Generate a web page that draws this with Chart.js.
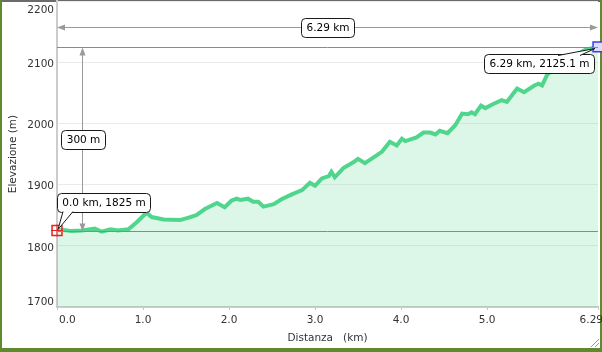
<!DOCTYPE html>
<html>
<head>
<meta charset="utf-8">
<script src="https://cdn.jsdelivr.net/npm/chart.js@4/dist/chart.umd.min.js"></script>
<style>
    html, body {
        margin: 0;
        width: 602px;
        height: 352px;
        overflow: hidden;
        background: #5f8a2e;
    }
    #panel {
        position: absolute;
        left: 2px;
        top: 0;
        width: 598px;
        height: 348px;
        background: #ffffff;
        border-top: 2px solid #6b6b6b;
        box-sizing: border-box;
    }
    #grip {
        position: absolute;
        left: 589px;
        top: 337px;
        width: 10px;
        height: 10px;
        background: repeating-linear-gradient(135deg, transparent 0 2px, #9a9a9a 2px 3px);
        clip-path: polygon(100% 0, 100% 100%, 0 100%);
    }
    #chart {
        position: absolute;
        left: 0;
        top: 0;
    }
</style>
</head>
<body>
<div id="panel"></div>
<div id="grip"></div>
<canvas id="chart" width="602" height="352"></canvas>
<script>
const distKm = [
    0.00, 0.06, 0.17, 0.29, 0.44, 0.52, 0.62, 0.71, 0.83, 0.93,
    1.04, 1.10, 1.24, 1.43, 1.53, 1.62, 1.72, 1.86, 1.95, 2.03,
    2.09, 2.13, 2.22, 2.28, 2.34, 2.40, 2.52, 2.61, 2.73, 2.85,
    2.94, 3.00, 3.08, 3.16, 3.19, 3.23, 3.33, 3.45, 3.50, 3.58,
    3.72, 3.78, 3.87, 3.95, 4.01, 4.05, 4.18, 4.26, 4.34, 4.40,
    4.45, 4.54, 4.63, 4.71, 4.78, 4.82, 4.86, 4.93, 4.98, 5.06,
    5.17, 5.23, 5.29, 5.35, 5.43, 5.55, 5.60, 5.64, 5.70, 5.79,
    5.91, 6.02, 6.14, 6.29
];

const elevM = [
    1825, 1826, 1824, 1825, 1828, 1823, 1827, 1825, 1827, 1839,
    1854, 1847, 1843, 1842, 1846, 1850, 1860, 1870, 1863, 1874,
    1877, 1875, 1877, 1872, 1872, 1864, 1868, 1876, 1884, 1891,
    1903, 1898, 1910, 1914, 1921, 1912, 1927, 1937, 1942, 1935,
    1948, 1954, 1970, 1964, 1975, 1971, 1977, 1985, 1985, 1982,
    1988, 1984, 1997, 2016, 2015, 2018, 2015, 2029, 2025, 2031,
    2038, 2035, 2046, 2057, 2051, 2062, 2065, 2062, 2080, 2090,
    2102, 2110, 2120, 2125.1
];

const xTicks = [0, 1, 2, 3, 4, 5, 6.29];
const xTickLabels = ["0.0", "1.0", "2.0", "3.0", "4.0", "5.0", "6.29"];
const yTicks = [1700, 1800, 1900, 2000, 2100, 2200];

const startPoint = { km: 0.0, elev: 1825 };
const endPoint = { km: 6.29, elev: 2125.1 };

const startLabel = "0.0 km, 1825 m";
const endLabel = "6.29 km, 2125.1 m";
const distLabel = "6.29 km";
const climbLabel = "300 m";

const FONT = "10.5px 'DejaVu Sans', Verdana, sans-serif";

// rounded label box, optional callout tail towards a point
function labelBox(ctx, text, x, y, w, h, tail) {
    ctx.save();
    ctx.beginPath();
    ctx.roundRect(x + 0.5, y + 0.5, w, h, 4);
    ctx.fillStyle = "#ffffff";
    ctx.fill();
    ctx.lineWidth = 1;
    ctx.strokeStyle = "#1a1a1a";
    ctx.stroke();

    if (tail) {
        ctx.beginPath();
        ctx.moveTo(tail.ax, tail.ay);
        ctx.lineTo(tail.tx, tail.ty);
        ctx.lineTo(tail.bx, tail.by);
        ctx.closePath();
        ctx.fillStyle = "#ffffff";
        ctx.fill();
        ctx.beginPath();
        ctx.moveTo(tail.ax, tail.ay);
        ctx.lineTo(tail.tx, tail.ty);
        ctx.lineTo(tail.bx, tail.by);
        ctx.stroke();
    }

    ctx.fillStyle = "#000000";
    ctx.font = FONT;
    ctx.textAlign = "center";
    ctx.textBaseline = "middle";
    ctx.fillText(text, x + w / 2 + 0.5, y + h / 2 + 1);
    ctx.restore();
}

function arrowHead(ctx, x, y, dir) {
    // dir: "l", "r", "u", "d"
    const len = 8, half = 3;
    ctx.beginPath();
    if (dir === "l") {
        ctx.moveTo(x, y); ctx.lineTo(x + len, y - half); ctx.lineTo(x + len, y + half);
    } else if (dir === "r") {
        ctx.moveTo(x, y); ctx.lineTo(x - len, y - half); ctx.lineTo(x - len, y + half);
    } else if (dir === "u") {
        ctx.moveTo(x, y); ctx.lineTo(x - half, y + len); ctx.lineTo(x + half, y + len);
    } else {
        ctx.moveTo(x, y); ctx.lineTo(x - half, y - len); ctx.lineTo(x + half, y - len);
    }
    ctx.closePath();
    ctx.fill();
}

const overlay = {
    id: "overlay",

    afterDatasetsDraw(chart) {
        const { ctx, chartArea: a, scales: { x, y } } = chart;
        const yTop = Math.round(y.getPixelForValue(endPoint.elev)) + 0.5;
        const yBase = Math.round(y.getPixelForValue(startPoint.elev)) + 0.5;
        const xEnd = x.getPixelForValue(endPoint.km);
        const xStart = x.getPixelForValue(startPoint.km);

        ctx.save();
        ctx.lineWidth = 1;

        // reference levels
        ctx.strokeStyle = "#8a8a8a";
        ctx.beginPath();
        ctx.moveTo(a.left, yTop);
        ctx.lineTo(a.right, yTop);
        ctx.moveTo(a.left, yBase);
        ctx.lineTo(a.right, yBase);
        ctx.stroke();

        // distance dimension
        ctx.strokeStyle = "#9a9a9a";
        ctx.fillStyle = "#9a9a9a";
        const dy = a.top + 26.5;
        ctx.beginPath();
        ctx.moveTo(xStart + 2, dy);
        ctx.lineTo(xEnd - 2, dy);
        ctx.stroke();
        arrowHead(ctx, xStart, dy, "l");
        arrowHead(ctx, xEnd, dy, "r");

        // climb dimension
        const dx = a.left + 25.5;
        ctx.beginPath();
        ctx.moveTo(dx, yTop + 2);
        ctx.lineTo(dx, yBase - 2);
        ctx.stroke();
        arrowHead(ctx, dx, yTop, "u");
        arrowHead(ctx, dx, yBase, "d");
        ctx.restore();

        ctx.save();
        ctx.font = FONT;
        const pad = 5, h = 19;

        let w = Math.round(ctx.measureText(distLabel).width) + pad * 2;
        labelBox(ctx, distLabel, Math.round((xStart + xEnd) / 2 - w / 2), Math.round(dy - h / 2), w, h);

        w = Math.round(ctx.measureText(climbLabel).width) + pad * 2;
        labelBox(ctx, climbLabel, Math.round(dx - w / 2), Math.round((yTop + yBase) / 2 - h / 2), w, h);

        w = Math.round(ctx.measureText(startLabel).width) + pad * 2;
        let bx = Math.round(xStart), by = Math.round(yBase - 20 - h);
        labelBox(ctx, startLabel, bx, by, w, h, {
            ax: bx + 6, ay: by + h - 0.5,
            bx: bx + 16, by: by + h - 0.5,
            tx: xStart + 1, ty: yBase - 2
        });

        w = Math.round(ctx.measureText(endLabel).width) + pad * 2;
        bx = Math.round(xEnd - 4 - w);
        by = Math.round(yTop + 6);
        labelBox(ctx, endLabel, bx, by, w, h, {
            ax: bx + w - 36, ay: by + 1.5,
            bx: bx + w - 14, by: by + 1.5,
            tx: xEnd - 3, ty: yTop + 1
        });
        ctx.restore();
    },

    afterDraw(chart) {
        const { ctx, chartArea: a, scales: { x, y } } = chart;
        ctx.save();
        ctx.font = FONT;
        ctx.fillStyle = "#333333";
        ctx.textBaseline = "middle";

        // y tick labels, kept inside the plot height
        ctx.textAlign = "right";
        yTicks.forEach(v => {
            let py = y.getPixelForValue(v) + 2;
            py = Math.max(a.top + 9, Math.min(a.bottom - 5, py));
            ctx.fillText(String(v), a.left - 3, py);
        });

        // x tick labels, kept inside the plot width
        ctx.textAlign = "left";
        xTicks.forEach((v, i) => {
            const t = xTickLabels[i];
            const tw = ctx.measureText(t).width;
            let px = x.getPixelForValue(v) - tw / 2;
            px = Math.max(a.left + 2, Math.min(603 - tw, px));
            ctx.fillText(t, px, a.bottom + 13);
        });
        ctx.restore();
    }
};

new Chart(document.getElementById("chart"), {
    type: "line",

    data: {
        datasets: [
            {
                label: "Profilo",
                data: distKm.map((d, i) => ({ x: d, y: elevM[i] })),
                borderColor: "#50d68c",
                borderWidth: 4,
                backgroundColor: "rgba(80, 214, 140, 0.2)",
                fill: "start",
                pointRadius: 0,
                tension: 0,
                order: 3
            },
            {
                label: "Partenza",
                data: [{ x: startPoint.km, y: startPoint.elev }],
                pointStyle: "rect",
                pointRadius: 7,
                pointBorderWidth: 1.5,
                pointBorderColor: "#e8201c",
                pointBackgroundColor: "rgba(255,255,255,0.3)",
                showLine: false,
                clip: false,
                order: 2
            },
            {
                label: "Partenza croce",
                data: [{ x: startPoint.km, y: startPoint.elev }],
                pointStyle: "cross",
                pointRadius: 6,
                pointBorderWidth: 1,
                pointBorderColor: "#e8201c",
                showLine: false,
                clip: false,
                order: 1
            },
            {
                label: "Arrivo",
                data: [{ x: endPoint.km, y: endPoint.elev }],
                pointStyle: "rect",
                pointRadius: 7,
                pointBorderWidth: 1.5,
                pointBorderColor: "#3c3cf0",
                pointBackgroundColor: "#dcdcff",
                showLine: false,
                clip: false,
                order: 1
            }
        ]
    },

    options: {
        responsive: false,
        animation: false,
        devicePixelRatio: 1,
        layout: {
            autoPadding: false,
            padding: { top: 1, right: 4, bottom: 0, left: 0 }
        },
        plugins: {
            legend: { display: false },
            tooltip: { enabled: false }
        },
        scales: {
            x: {
                type: "linear",
                min: 0,
                max: 6.29,
                afterBuildTicks: s => { s.ticks = xTicks.map(v => ({ value: v })); },
                afterFit: s => { s.height = 45; },
                ticks: { display: false },
                grid: {
                    drawOnChartArea: false,
                    drawTicks: true,
                    tickLength: 3,
                    color: "#c4c4c4"
                },
                border: { color: "#cccccc", width: 2 },
                title: {
                    display: true,
                    text: "Distanza   (km)",
                    color: "#333333",
                    font: { family: "'DejaVu Sans', Verdana, sans-serif", size: 10.5 },
                    padding: { top: 0, bottom: 7 }
                }
            },
            y: {
                min: 1700,
                max: 2200,
                afterBuildTicks: s => { s.ticks = yTicks.map(v => ({ value: v })); },
                afterFit: s => { s.width = 57; },
                ticks: { display: false },
                grid: {
                    color: "#ebebeb",
                    drawTicks: false
                },
                border: { color: "#cccccc", width: 2 },
                title: {
                    display: true,
                    text: "Elevazione (m)",
                    color: "#333333",
                    font: { family: "'DejaVu Sans', Verdana, sans-serif", size: 10.5 },
                    padding: { top: 7, bottom: 0 }
                }
            }
        }
    },

    plugins: [overlay]
});
</script>
</body>
</html>
